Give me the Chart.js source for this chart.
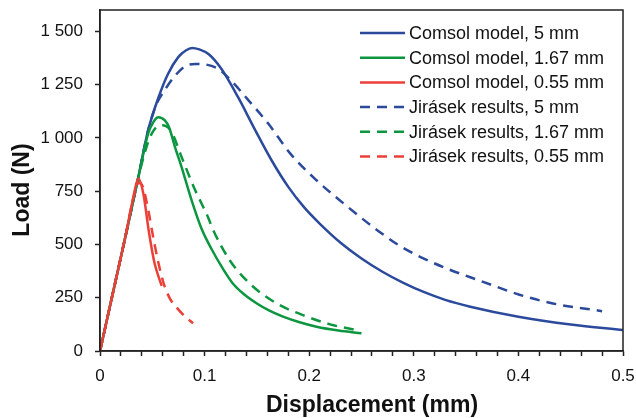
<!DOCTYPE html>
<html>
<head>
<meta charset="utf-8">
<script src="https://cdn.jsdelivr.net/npm/chart.js@4"></script>
<style>
  html, body { margin: 0; padding: 0; background: #fff; }
  #wrap { width: 636px; height: 418px; position: relative; }
</style>
</head>
<body>
<div id="wrap"><canvas id="loadChart"></canvas></div>
<script>
// Displacement (mm) and load (N)
const comsol5X = [0, 0.012, 0.024, 0.036, 0.046, 0.056, 0.065, 0.075, 0.082, 0.088, 0.095, 0.104, 0.116, 0.132, 0.148, 0.164, 0.18, 0.195, 0.21, 0.23, 0.25, 0.27, 0.29, 0.31, 0.33, 0.354, 0.40, 0.45, 0.50];
const comsol5Y = [0, 265, 530, 800, 1035, 1191, 1300, 1380, 1410, 1422, 1415, 1392, 1324, 1191, 1040, 895, 770, 675, 598, 508, 434, 372, 320, 276, 240, 208, 161, 124, 98];

const comsol167X = [0, 0.012, 0.024, 0.036, 0.046, 0.051, 0.0558, 0.062, 0.066, 0.0717, 0.078, 0.0876, 0.097, 0.107, 0.117, 0.127, 0.138, 0.150, 0.162, 0.175, 0.19, 0.207, 0.228, 0.25];
const comsol167Y = [0, 265, 530, 800, 1020, 1074, 1097, 1082, 1050, 957, 863, 707, 575, 475, 390, 317, 265, 223, 189, 161, 136, 114, 96, 83];

const comsol055X = [0, 0.012, 0.024, 0.032, 0.0366, 0.0414, 0.047, 0.052, 0.059];
const comsol055Y = [0, 265, 530, 725, 809, 739, 551, 415, 305];

const jirasek5X = [0, 0.012, 0.024, 0.036, 0.046, 0.054, 0.062, 0.072, 0.081, 0.091, 0.100, 0.113, 0.126, 0.142, 0.161, 0.182, 0.207, 0.233, 0.261, 0.287, 0.306, 0.33, 0.354, 0.38, 0.401, 0.433, 0.48];
const jirasek5Y = [0, 265, 530, 800, 1035, 1158, 1225, 1293, 1335, 1347, 1345, 1324, 1265, 1176, 1066, 926, 801, 692, 582, 492, 442, 390, 346, 300, 264, 223, 187];

const jirasek167X = [0, 0.012, 0.024, 0.036, 0.044, 0.05, 0.0574, 0.063, 0.0685, 0.078, 0.091, 0.0956, 0.1035, 0.108, 0.124, 0.143, 0.169, 0.198, 0.22, 0.245];
const jirasek167Y = [0, 265, 530, 800, 950, 1025, 1059, 1055, 1027, 910, 754, 707, 625, 570, 426, 317, 223, 161, 125, 98];

const jirasek055X = [0, 0.012, 0.024, 0.032, 0.037, 0.041, 0.046, 0.051, 0.056, 0.061, 0.067, 0.074, 0.081, 0.089];
const jirasek055Y = [0, 265, 530, 720, 790, 770, 665, 530, 410, 315, 245, 200, 163, 130];

const seriesNames = ['Comsol model, 5 mm', 'Comsol model, 1.67 mm', 'Comsol model, 0.55 mm',
                     'Jirásek results, 5 mm', 'Jirásek results, 1.67 mm', 'Jirásek results, 0.55 mm'];

const xMajorTicks = [0, 0.1, 0.2, 0.3, 0.4, 0.5];
const xMinorStep = 0.02;
const yTickValues = [0, 250, 500, 750, 1000, 1250, 1500];
const yTickLabels = ['0', '250', '500', '750', '1 000', '1 250', '1 500'];

const BLUE = '#2c4a9c';
const GREEN = '#0c9640';
const RED = '#ea4038';
const DASH = [10, 7];
const FONT = "'Liberation Sans', Arial, sans-serif";

function toPoints(xs, ys) {
    return xs.map((x, i) => ({ x: x, y: ys[i] }));
}

function makeSet(label, xs, ys, color, dashed, order) {
    return {
        label: label,
        data: toPoints(xs, ys),
        borderColor: color,
        backgroundColor: color,
        borderWidth: 2.5,
        borderDash: dashed ? DASH : [],
        pointRadius: 0,
        showLine: true,
        fill: false,
        cubicInterpolationMode: 'monotone',
        order: order
    };
}

const datasets = [
    makeSet(seriesNames[0], comsol5X, comsol5Y, BLUE, false, 4),
    makeSet(seriesNames[1], comsol167X, comsol167Y, GREEN, false, 2),
    makeSet(seriesNames[2], comsol055X, comsol055Y, RED, false, 0),
    makeSet(seriesNames[3], jirasek5X, jirasek5Y, BLUE, true, 5),
    makeSet(seriesNames[4], jirasek167X, jirasek167Y, GREEN, true, 3),
    makeSet(seriesNames[5], jirasek055X, jirasek055Y, RED, true, 1)
];

// frame on top/right, axis titles and the legend inside the plot
const decorPlugin = {
    id: 'decor',
    afterDraw(chart) {
        const ctx = chart.ctx;
        const a = chart.chartArea;
        ctx.save();
        ctx.strokeStyle = '#222';
        ctx.lineWidth = 1.5;
        ctx.strokeRect(a.left, a.top, a.right - a.left, a.bottom - a.top);

        ctx.fillStyle = '#111';
        ctx.font = 'bold 23px ' + FONT;
        ctx.textAlign = 'center';
        ctx.textBaseline = 'alphabetic';
        ctx.fillText('Displacement (mm)', 372, 412);
        ctx.translate(29, 190);
        ctx.rotate(-Math.PI / 2);
        ctx.fillText('Load (N)', 0, 0);
        ctx.restore();

        ctx.save();
        ctx.font = '18px ' + FONT;
        ctx.textAlign = 'left';
        ctx.textBaseline = 'middle';
        const x0 = 360, x1 = 405, rowTop = 33, rowStep = 24.7;
        chart.data.datasets.forEach((ds, i) => {
            const y = rowTop + i * rowStep;
            ctx.strokeStyle = ds.borderColor;
            ctx.lineWidth = 2.5;
            ctx.setLineDash(ds.borderDash);
            ctx.beginPath();
            ctx.moveTo(x0, y);
            ctx.lineTo(x1, y);
            ctx.stroke();
            ctx.setLineDash([]);
            ctx.fillStyle = '#111';
            ctx.fillText(ds.label, 409, y + 1);
        });
        ctx.restore();
    }
};

const ctx = document.getElementById('loadChart').getContext('2d');
new Chart(ctx, {
    type: 'scatter',
    data: { datasets: datasets },
    options: {
        responsive: true,
        maintainAspectRatio: false,
        animation: false,
        layout: { padding: { left: 0, right: 13, top: 10, bottom: 0 } },
        plugins: {
            legend: { display: false },
            tooltip: { enabled: false }
        },
        scales: {
            x: {
                type: 'linear',
                min: 0,
                max: 0.5,
                afterFit: (scale) => {
                    scale.height = 67;
                    scale.paddingLeft = 0;
                    scale.paddingRight = 0;
                },
                afterBuildTicks: (scale) => {
                    const ticks = [];
                    const n = Math.round(xMajorTicks[xMajorTicks.length - 1] / xMinorStep);
                    for (let i = 0; i <= n; i++) {
                        ticks.push({ value: +(i * xMinorStep).toFixed(2) });
                    }
                    scale.ticks = ticks;
                },
                ticks: {
                    autoSkip: false,
                    maxRotation: 0,
                    padding: 10,
                    color: '#111',
                    font: { family: FONT, size: 17 },
                    callback: (value) => {
                        const hit = xMajorTicks.find(t => Math.abs(t - value) < 1e-6);
                        if (hit === undefined) return '';
                        return hit === 0 ? '0' : String(hit);
                    }
                },
                grid: {
                    display: true,
                    drawOnChartArea: false,
                    drawTicks: true,
                    tickLength: 5,
                    tickWidth: 1.5,
                    tickColor: '#222'
                },
                border: { display: true, color: '#222', width: 1.5 }
            },
            y: {
                type: 'linear',
                min: 0,
                max: 1600,
                afterFit: (scale) => {
                    scale.width = 100;
                    scale.paddingTop = 0;
                    scale.paddingBottom = 0;
                },
                afterBuildTicks: (scale) => {
                    scale.ticks = yTickValues.map(v => ({ value: v }));
                },
                ticks: {
                    autoSkip: false,
                    padding: 12,
                    color: '#111',
                    font: { family: FONT, size: 17 },
                    callback: (value, index) => yTickLabels[index]
                },
                grid: {
                    display: true,
                    drawOnChartArea: false,
                    drawTicks: true,
                    tickLength: 5,
                    tickWidth: 1.5,
                    tickColor: '#222'
                },
                border: { display: true, color: '#222', width: 1.5 }
            }
        }
    },
    plugins: [decorPlugin]
});
</script>
</body>
</html>
